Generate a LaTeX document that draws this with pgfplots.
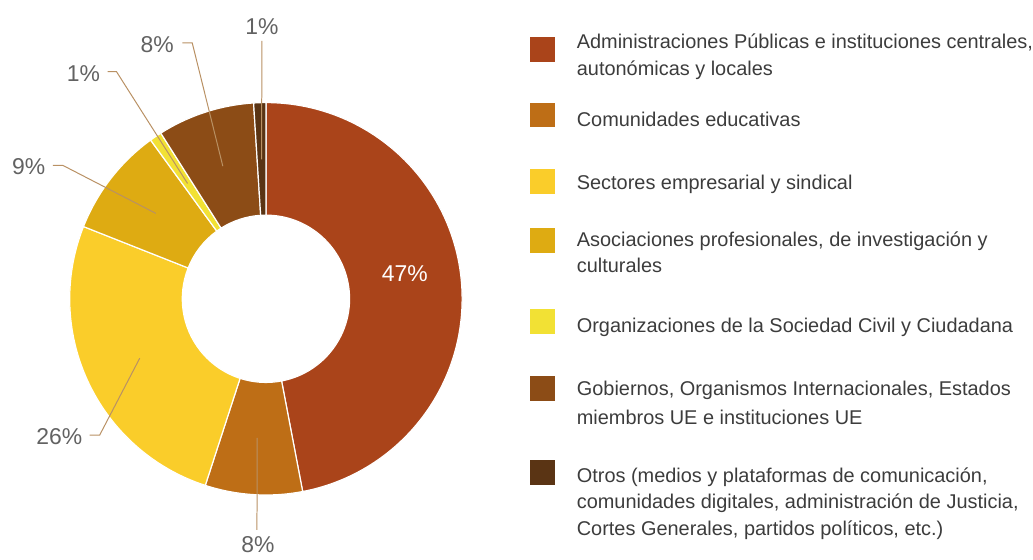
\documentclass[border=0pt]{standalone}
\usepackage{pgfplots}
\pgfplotsset{compat=1.18}
\usepackage{fontspec}
\setmainfont{Liberation Sans}

\definecolor{cAdm}{RGB}{170,68,26}
\definecolor{cEdu}{RGB}{190,110,22}
\definecolor{cEmp}{RGB}{250,205,42}
\definecolor{cAso}{RGB}{222,171,18}
\definecolor{cOrg}{RGB}{242,225,52}
\definecolor{cGob}{RGB}{140,76,22}
\definecolor{cOtr}{RGB}{90,52,20}
\definecolor{leadc}{RGB}{185,145,100}
\definecolor{lblc}{RGB}{98,98,98}
\definecolor{legc}{RGB}{60,60,60}

\tikzset{
  lead/.style={leadc, line width=1pt},
  lbl/.style={text=lblc, font=\fontsize{23}{27}\selectfont},
  leg/.style={text=legc, anchor=base west, inner sep=0pt, font=\fontsize{20}{27}\selectfont},
}

% donut: centre (267,300) in picture pixels, radii 197 and 84
\def\cum{0}
\newcommand\slice[3]{% value, colour, name of the mid point
  \pgfmathsetmacro\aa{90-3.6*\cum}%
  \pgfmathsetmacro\cumnew{\cum+#1}%
  \pgfmathsetmacro\bb{90-3.6*\cumnew}%
  \pgfmathsetmacro\mm{(\aa+\bb)/2}%
  \xdef\cum{\cumnew}%
  \edef\tmp{\noexpand\fill[#2, draw=white, line width=1.2pt]
    (axis cs:267,300) ++(\aa:197pt) arc[start angle=\aa, end angle=\bb, radius=197pt]
    -- ++(\bb+180:113pt) arc[start angle=\bb, end angle=\aa, radius=84pt] -- cycle;
    \noexpand\path (axis cs:267,300) ++(\mm:140pt) coordinate (#3);}%
  \tmp
}

\begin{document}
\begin{tikzpicture}
\begin{axis}[
    width=1033pt, height=562pt, scale only axis,
    hide axis, clip=false,
    xmin=0, xmax=1033, ymin=0, ymax=562, y dir=reverse,
]
\path (axis cs:0,0) rectangle (axis cs:1033,562);
% shares in %, clockwise from the top
\slice{47}{cAdm}{m1}
\slice{8}{cEdu}{m2}
\slice{26}{cEmp}{m3}
\slice{9}{cAso}{m4}
\slice{1}{cOrg}{m5}
\slice{8}{cGob}{m6}
\slice{1}{cOtr}{m7}

% leader lines
\draw[lead] (m2) -- (axis cs:258,532);
\draw[lead] (m3) -- (axis cs:100,437) -- (axis cs:90,437);
\draw[lead] (m4) -- (axis cs:63,166) -- (axis cs:53,166);
\draw[lead] (m5) -- (axis cs:117,72) -- (axis cs:108,72);
\draw[lead] (m6) -- (axis cs:193,43) -- (axis cs:183,43);
\draw[lead] (m7) -- (axis cs:263,41);

% value labels
\node[lbl, text=white] at (m1) [yshift=12pt] {47\%};
\node[lbl, anchor=north] at (axis cs:259,535) {8\%};
\node[lbl, anchor=east] at (axis cs:86,438) {26\%};
\node[lbl, anchor=east] at (axis cs:49,167) {9\%};
\node[lbl, anchor=east] at (axis cs:104,74) {1\%};
\node[lbl, anchor=east] at (axis cs:178,45) {8\%};
\node[lbl, anchor=south] at (axis cs:263,38) {1\%};

% legend
\fill[cAdm] (axis cs:532,37) rectangle (axis cs:557,62);
\fill[cEdu] (axis cs:532,103) rectangle (axis cs:557,128);
\fill[cEmp] (axis cs:532,170) rectangle (axis cs:557,195);
\fill[cAso] (axis cs:532,229) rectangle (axis cs:557,254);
\fill[cOrg] (axis cs:532,310) rectangle (axis cs:557,335);
\fill[cGob] (axis cs:532,378) rectangle (axis cs:557,403);
\fill[cOtr] (axis cs:532,462) rectangle (axis cs:557,487);
\node[leg] at (axis cs:579,49) {Administraciones Públicas e instituciones centrales,};
\node[leg] at (axis cs:579,76) {autonómicas y locales};
\node[leg] at (axis cs:579,127) {Comunidades educativas};
\node[leg] at (axis cs:579,190) {Sectores empresarial y sindical};
\node[leg] at (axis cs:579,247) {Asociaciones profesionales, de investigación y};
\node[leg] at (axis cs:579,274) {culturales};
\node[leg] at (axis cs:579,334) {Organizaciones de la Sociedad Civil y Ciudadana};
\node[leg] at (axis cs:579,397) {Gobiernos, Organismos Internacionales, Estados};
\node[leg] at (axis cs:579,426) {miembros UE e instituciones UE};
\node[leg] at (axis cs:579,484) {Otros (medios y plataformas de comunicación,};
\node[leg] at (axis cs:579,511) {comunidades digitales, administración de Justicia,};
\node[leg] at (axis cs:579,538) {Cortes Generales, partidos políticos, etc.)};
\end{axis}
\end{tikzpicture}
\end{document}
